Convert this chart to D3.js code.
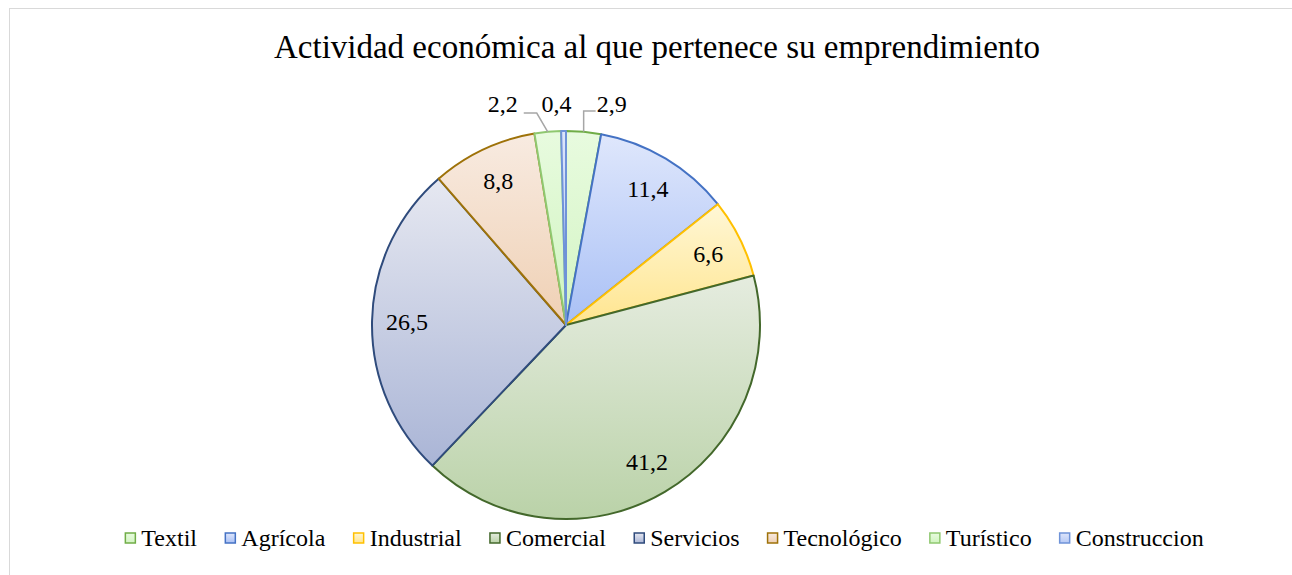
<!DOCTYPE html>
<html>
<head>
<meta charset="UTF-8" />
<script src="https://d3js.org/d3.v7.min.js"></script>
<style>
  body { margin: 0; background: #fff; }
  .slice { stroke-width: 2px; }
  .leader { fill: none; stroke: #a6a6a6; stroke-width: 1.5px; }
</style>
</head>
<body>
<svg width="1292" height="575"></svg>
<script>
const categories = ["Textil", "Agrícola", "Industrial", "Comercial", "Servicios", "Tecnológico", "Turístico", "Construccion"];
const values = [2.9, 11.4, 6.6, 41.2, 26.5, 8.8, 2.2, 0.4];
const labels = ["2,9", "11,4", "6,6", "41,2", "26,5", "8,8", "2,2", "0,4"];
const topColors = ["#e8fbdf", "#dfe7fc", "#fff7d6", "#e5ecdf", "#e6e8f1", "#f8ebe1", "#e8fbdf", "#dde5fb"];
const bottomColors = ["#d3f4c3", "#a9c0f5", "#ffe58f", "#bad2a8", "#aab5d6", "#efd0b4", "#d0f4bf", "#b6c9f5"];
const strokeColors = ["#70ad47", "#4472c4", "#ffc000", "#43682b", "#2f4b7c", "#9e7209", "#8fc870", "#6f93d8"];

const FONT = "'Liberation Serif'";
const svg = d3.select("svg");
const cx = 566, cy = 325, r = 194;

function txt(sel, size) {
  return sel.style("font-family", FONT).style("font-size", size + "px").style("fill", "#000");
}

// chart border
svg.append("rect")
  .attr("x", 9.5).attr("y", 8.5)
  .attr("width", 1300).attr("height", 600)
  .attr("fill", "#fff").attr("stroke", "#d9d9d9");

// gradients
const defs = svg.append("defs");
categories.forEach((c, i) => {
  const g = defs.append("linearGradient")
    .attr("id", "grad" + i)
    .attr("x1", 0).attr("y1", 0).attr("x2", 0).attr("y2", 1);
  g.append("stop").attr("offset", "0%").attr("stop-color", topColors[i]);
  g.append("stop").attr("offset", "100%").attr("stop-color", bottomColors[i]);
});

// title
txt(svg.append("text"), 33)
  .attr("x", 657).attr("y", 58)
  .attr("text-anchor", "middle")
  .text("Actividad económica al que pertenece su emprendimiento");

const pie = d3.pie().sort(null).value(d => d);
const arcs = pie(values);
const arc = d3.arc().innerRadius(0).outerRadius(r);
const labelArc = d3.arc().innerRadius(r * 0.82).outerRadius(r * 0.82);

const g = svg.append("g").attr("transform", `translate(${cx},${cy})`);

g.selectAll("path.slice")
  .data(arcs)
  .join("path")
  .attr("class", "slice")
  .attr("d", arc)
  .attr("fill", (d, i) => `url(#grad${i})`)
  .attr("stroke", (d, i) => strokeColors[i])
  .attr("stroke-linejoin", "round");

// labels: large slices inside, tiny slices outside with leader lines
const small = [0, 6, 7];
arcs.forEach((d, i) => {
  if (small.includes(i)) return;
  const [x, y] = labelArc.centroid(d);
  txt(g.append("text"), 24)
    .attr("x", x).attr("y", y + 8)
    .attr("text-anchor", "middle")
    .text(labels[i]);
});

function edgePoint(d) {
  const a = (d.startAngle + d.endAngle) / 2;
  return [Math.sin(a) * r, -Math.cos(a) * r];
}

// Textil: leader up then right
{
  const [ex, ey] = edgePoint(arcs[0]);
  const ly = -r - 20;
  g.append("path").attr("class", "leader")
    .attr("d", `M${ex},${ey}V${ly}H${ex + 12}`);
  txt(g.append("text"), 24)
    .attr("x", ex + 13).attr("y", ly + 1)
    .text(labels[0]);
}
// Turístico: leader diagonal then left
{
  const [ex, ey] = edgePoint(arcs[6]);
  const ly = -r - 18;
  g.append("path").attr("class", "leader")
    .attr("d", `M${ex},${ey}L${ex - 11},${ly}H${ex - 24}`);
  txt(g.append("text"), 24)
    .attr("x", ex - 30).attr("y", ly - 1)
    .attr("text-anchor", "end")
    .text(labels[6]);
}
// Construccion: straight above
{
  const [ex] = edgePoint(arcs[7]);
  txt(g.append("text"), 24)
    .attr("x", ex - 7).attr("y", -r - 19)
    .attr("text-anchor", "middle")
    .text(labels[7]);
}

// legend
const legend = svg.append("g").attr("class", "legend");
const items = legend.selectAll("g")
  .data(categories)
  .join("g");
items.append("rect")
  .attr("width", 10).attr("height", 10)
  .attr("y", -5)
  .attr("fill", (d, i) => `url(#grad${i})`)
  .attr("stroke", (d, i) => strokeColors[i])
  .attr("stroke-width", 1.5);
txt(items.append("text"), 24)
  .attr("x", 16)
  .attr("y", 8)
  .text(d => d);

const gap = 28;
const widths = items.nodes().map(n => n.getBBox().width);
const total = d3.sum(widths) + gap * (widths.length - 1);
let xpos = 664.5 - total / 2;
items.attr("transform", (d, i) => {
  const t = `translate(${xpos},538)`;
  xpos += widths[i] + gap;
  return t;
});
</script>
</body>
</html>
